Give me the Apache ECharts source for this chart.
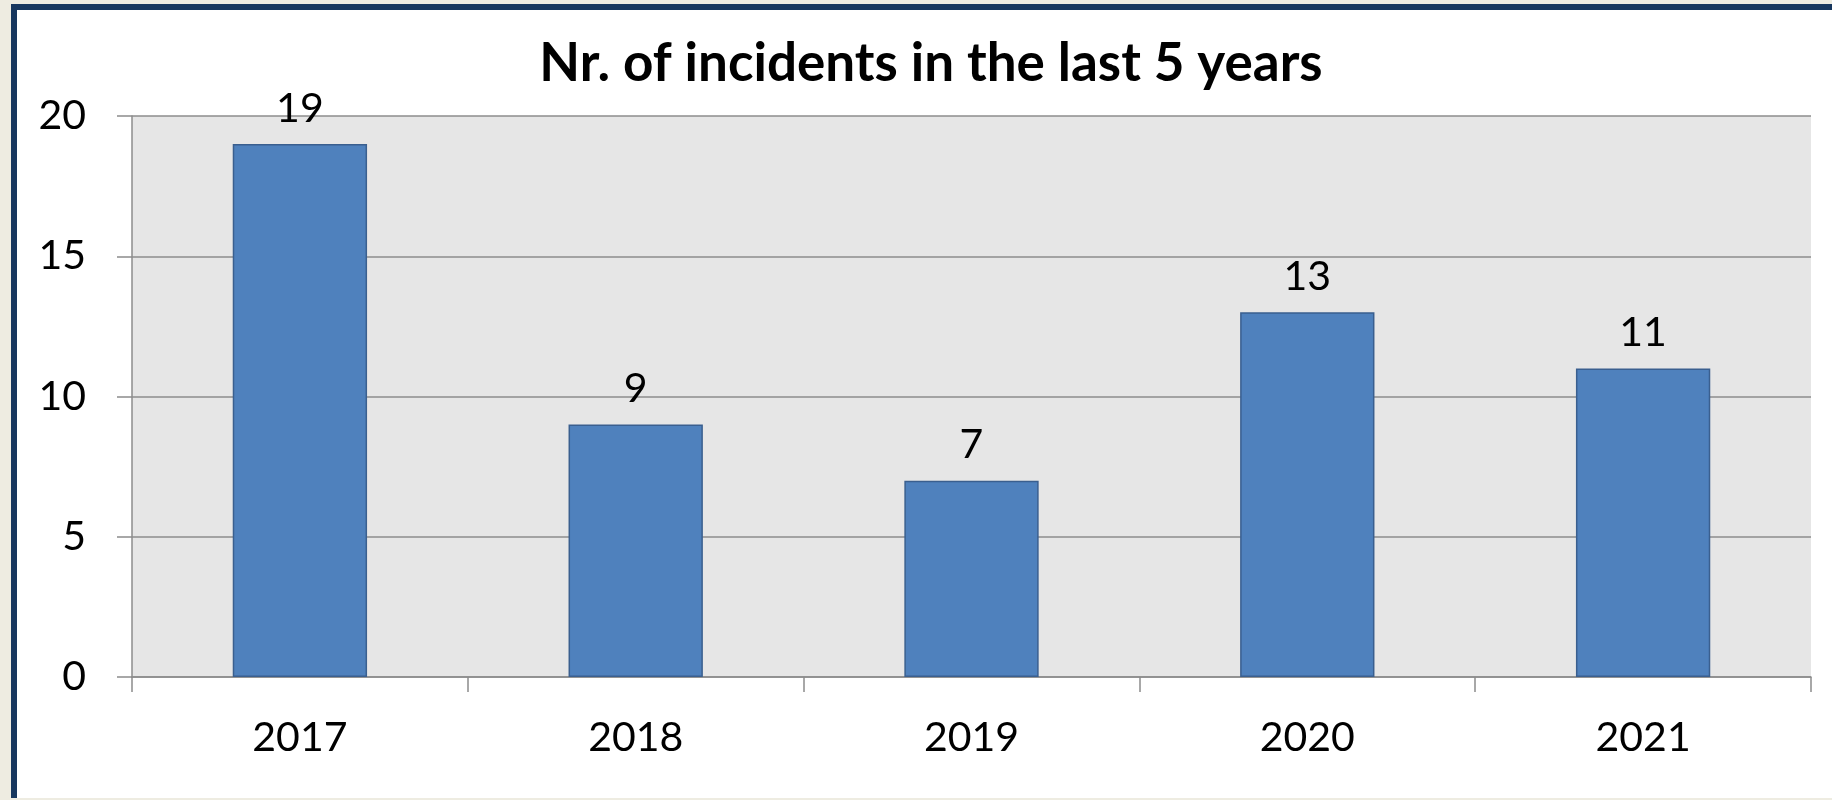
<!DOCTYPE html>
<html>
<head>
<meta charset="utf-8">
<title>Nr. of incidents in the last 5 years</title>
<script src="https://cdn.jsdelivr.net/npm/echarts@6/dist/echarts.min.js"></script>
<style>
  html, body {
    margin: 0;
    padding: 0;
    width: 1832px;
    height: 800px;
    background: #eeece1;
    overflow: hidden;
  }
  .frame {
    position: absolute;
    left: 11px;
    top: 4px;
    width: 1821px;
    height: 794px;
    box-sizing: border-box;
    background: #ffffff;
    border-left: 6px solid #17375e;
    border-top: 6px solid #17375e;
  }
  #chart {
    position: absolute;
    left: 0;
    top: 0;
    width: 1832px;
    height: 800px;
  }
</style>
</head>
<body>
<div class="frame"></div>
<div id="chart"></div>
<script>
// data
const years = ['2017', '2018', '2019', '2020', '2021']
const incidents = [19, 9, 7, 13, 11]
const yMin = 0
const yMax = 20
const yStep = 5

const chart = echarts.init(document.getElementById('chart'))

const fontFamily = 'Lato, "Open Sans", sans-serif'

chart.setOption({
  animation: false,
  title: {
    text: 'Nr. of incidents in the last 5 years',
    left: 926,
    top: 32,
    textAlign: 'center',
    textStyle: {
      fontFamily: fontFamily,
      fontWeight: 'bold',
      fontSize: 53,
      color: '#000'
    }
  },
  grid: {
    left: 132,
    top: 116,
    right: 21,
    bottom: 123,
    show: true,
    backgroundColor: '#e6e6e6',
    borderWidth: 0
  },
  xAxis: {
    type: 'category',
    data: years,
    axisLine: { lineStyle: { color: '#8c8c8c', width: 1.5 } },
    axisTick: { show: true, length: 15, alignWithLabel: false, lineStyle: { color: '#8c8c8c', width: 1.5 } },
    axisLabel: {
      margin: 40,
      fontFamily: fontFamily,
      fontSize: 41,
      color: '#000'
    }
  },
  yAxis: {
    type: 'value',
    min: yMin,
    max: yMax,
    interval: yStep,
    axisLine: { show: true, lineStyle: { color: '#8c8c8c', width: 1.5 } },
    axisTick: { show: true, length: 15, lineStyle: { color: '#8c8c8c', width: 1.5 } },
    splitLine: { show: true, lineStyle: { color: '#8c8c8c', width: 1.5 } },
    axisLabel: {
      margin: 46,
      fontFamily: fontFamily,
      fontSize: 41,
      color: '#000'
    }
  },
  series: [{
    type: 'bar',
    data: incidents,
    barWidth: '40%',
    itemStyle: {
      color: '#4f81bd',
      borderColor: '#3a5f8f',
      borderWidth: 1.5
    },
    label: {
      show: true,
      position: 'top',
      distance: 15,
      fontFamily: fontFamily,
      fontSize: 41,
      color: '#000'
    }
  }]
})
</script>
</body>
</html>
